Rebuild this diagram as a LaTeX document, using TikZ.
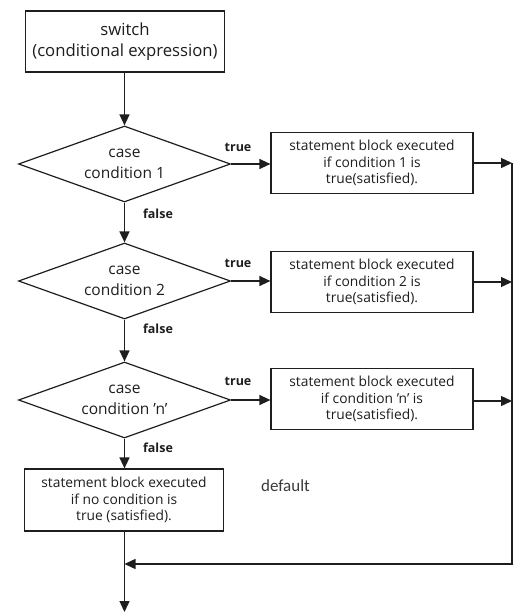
\documentclass[tikz,border=0pt]{standalone}
\usepackage{fontspec}
\setmainfont{Open Sans}
\newfontfamily\labelfont{Carlito}
\usetikzlibrary{shapes.geometric,arrows.meta}
\definecolor{ink}{HTML}{1E1E1E}
\definecolor{softink}{HTML}{3A3A3A}
\begin{document}
\begin{tikzpicture}[x=1pt,y=-1pt, color=ink, line width=1.3pt,
  flow/.style={-{Triangle[length=11pt,width=10pt]}},
  procbox/.style={rectangle, draw, line width=1.2pt, fill=white, inner sep=0pt,
    align=center, font=\fontsize{13.8}{16.5}\selectfont},
  decision/.style={diamond, draw, line width=1.2pt, inner sep=0pt,
    aspect=2.79, minimum width=212pt, minimum height=76pt,
    align=center, font=\fontsize{15.5}{21}\selectfont},
  branch/.style={inner sep=0pt, font=\bfseries\fontsize{12.5}{14}\selectfont},
]
\useasboundingbox (0,0) rectangle (515,613);

% switch header
\node[procbox, minimum width=199pt, minimum height=61pt,
  font=\fontsize{16.7}{21}\selectfont] (sw) at (125,41.5)
  {switch\\(conditional expression)};

% case decisions
\node[decision] (d1) at (124.5,164) {case\\condition 1};
\node[decision] (d2) at (124.5,281) {case\\condition 2};
\node[decision] (d3) at (124.5,400) {case\\condition 'n'};

% statement blocks for the true branches
\node[procbox, minimum width=202pt, minimum height=61pt] (b1) at (372,163)
  {statement block executed\\if condition 1 is\\true(satisfied).};
\node[procbox, minimum width=202pt, minimum height=61pt] (b2) at (372,282)
  {statement block executed\\if condition 2 is\\true(satisfied).};
\node[procbox, minimum width=202pt, minimum height=61pt] (b3) at (372,399)
  {statement block executed\\if condition 'n' is\\true(satisfied).};

% default block
\node[procbox, minimum width=199pt, minimum height=62pt] (df) at (124,500)
  {statement block executed\\if no condition is\\true (satisfied).};
\node[inner sep=0pt, text=softink, font=\labelfont\fontsize{17}{20}\selectfont]
  (dlabel) at (285.5,486) {default};

% branch labels
\node[branch] (t1) at (238,147) {true};
\node[branch] (t2) at (238,263) {true};
\node[branch] (t3) at (238,381) {true};
\node[branch] (f1) at (158,214) {false};
\node[branch] (f2) at (158,329) {false};
\node[branch] (f3) at (158,448) {false};

% junction points on the right rail and the exit
\coordinate (r1) at (512,163);
\coordinate (r2) at (512,282);
\coordinate (r3) at (512,401);
\coordinate (rb) at (512,564);
\coordinate (join) at (124.5,564);
\coordinate (exit) at (124.5,612);

% main flow
\draw[flow] (sw.south -| d1.north) -- (d1.north);
\draw[flow] (d1.south) -- (d2.north);
\draw[flow] (d2.south) -- (d3.north);
\draw[flow] (d3.south) -- (df.north -| d3.south);
\draw[flow] (df.south -| exit) -- (exit);

% true branches
\draw[flow] (d1.east) -- (d1.east -| b1.west);
\draw[flow] (d2.east) -- (d2.east -| b2.west);
\draw[flow] (d3.east) -- (d3.east -| b3.west);
\draw[flow] (b1.east |- r1) -- (r1);
\draw[flow] (b2.east |- r2) -- (r2);
\draw[flow] (b3.east |- r3) -- (r3);

% return rail
\draw[flow] (r1) -- (rb) -- (join);
\end{tikzpicture}
\end{document}
